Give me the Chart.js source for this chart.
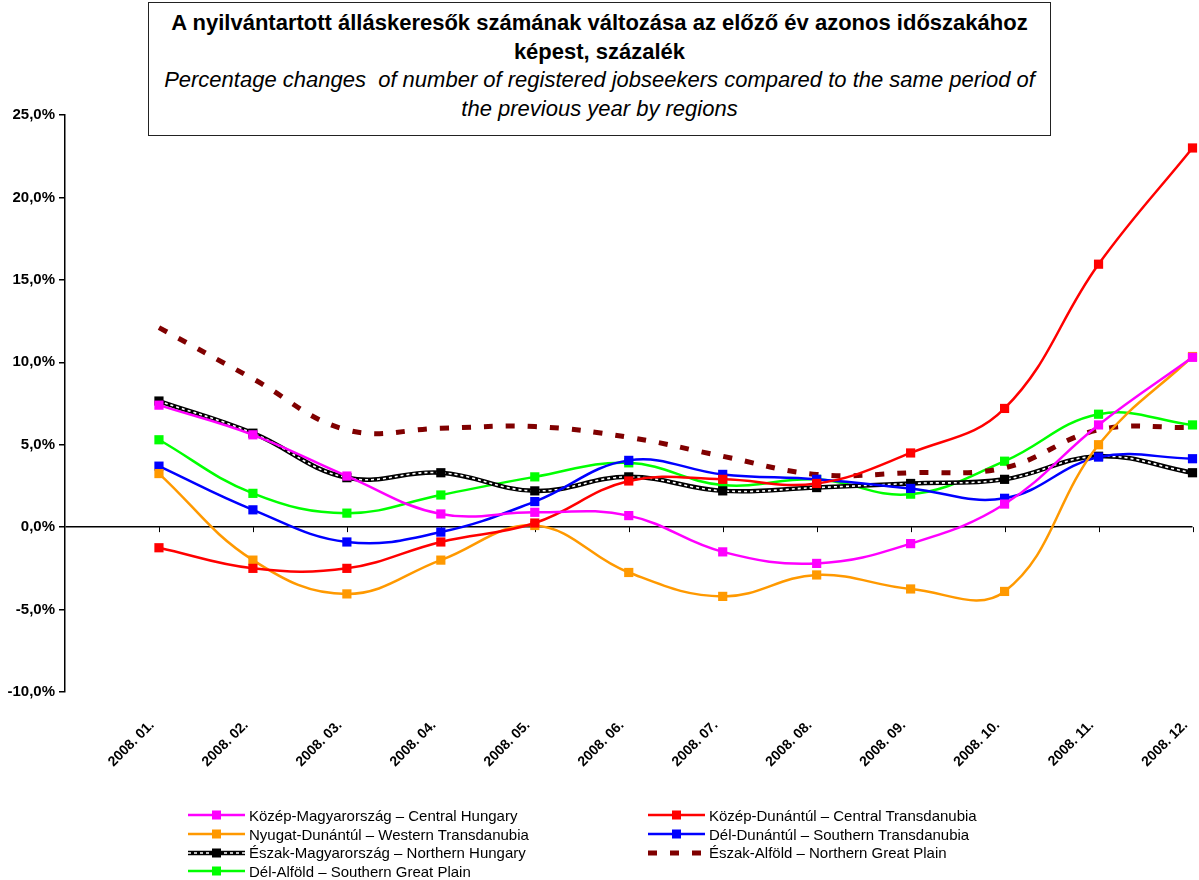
<!DOCTYPE html>
<html>
<head>
<meta charset="utf-8">
<script src="https://cdn.jsdelivr.net/npm/chart.js@4/dist/chart.umd.min.js"></script>
<style>
  body { margin: 0; background: #fff; font-family: "Liberation Sans", Arial, sans-serif; }
  #wrap { position: relative; width: 1199px; height: 880px; }
  #chart { position: absolute; left: 0; top: 0; }
  #title { position: absolute; left: 148px; top: 2px; width: 901px; height: 126px; border: 1.5px solid #222;
           text-align: center; font-size: 22px; line-height: 28.5px; padding-top: 6px; box-sizing: content-box; color: #000; background: #fff; }
  #title b { font-weight: bold; }
  #title i { font-style: italic; white-space: pre; }
  #legend { position: absolute; top: 806px; left: 188px; display: grid; grid-template-columns: 460px 400px;
            font-size: 15px; color: #000; }
  .item { display: flex; align-items: center; height: 18.7px; }
  .item svg { margin-right: 4px; }
</style>
</head>
<body>
<div id="wrap">
  <canvas id="chart" width="1199" height="880"></canvas>
  <div id="title">
    <b>A nyilvántartott álláskeresők számának változása az előző év azonos időszakához<br>képest, százalék</b><br>
    <i>Percentage changes  of number of registered jobseekers compared to the same period of</i><br>
    <i>the previous year by regions</i>
  </div>
  <div id="legend"></div>
</div>
<script>
// Reference chart: registered jobseekers, % change vs same period of previous year, by region

const months = ['2008. 01.', '2008. 02.', '2008. 03.', '2008. 04.', '2008. 05.', '2008. 06.',
                '2008. 07.', '2008. 08.', '2008. 09.', '2008. 10.', '2008. 11.', '2008. 12.'];

const centralHungary       = [7.4, 5.6, 3.1, 0.8, 0.9, 0.7, -1.5, -2.2, -1.0, 1.4, 6.2, 10.3];
const centralTransdanubia  = [-1.25, -2.5, -2.5, -0.9, 0.25, 2.8, 2.9, 2.65, 4.5, 7.2, 15.95, 23.0];
const westernTransdanubia  = [3.25, -2.0, -4.05, -2.0, 0.1, -2.75, -4.2, -2.9, -3.75, -3.9, 5.0, 10.35];
const southernTransdanubia = [3.7, 1.05, -0.9, -0.3, 1.55, 4.05, 3.2, 2.9, 2.35, 1.75, 4.25, 4.15];
const northernHungary      = [7.65, 5.7, 3.0, 3.3, 2.2, 3.05, 2.2, 2.4, 2.65, 2.9, 4.3, 3.3];
const northernGreatPlain   = [12.1, 9.0, 5.9, 6.0, 6.1, 5.45, 4.3, 3.2, 3.3, 3.6, 5.9, 6.05];
const southernGreatPlain   = [5.3, 2.05, 0.85, 1.95, 3.05, 3.9, 2.55, 2.9, 2.0, 4.0, 6.85, 6.2];

const yTicks = [-10, -5, 0, 5, 10, 15, 20, 25];

const series = [
    { label: 'Közép-Magyarország – Central Hungary', data: centralHungary, color: '#ff00ff' },
    { label: 'Közép-Dunántúl – Central Transdanubia', data: centralTransdanubia, color: '#ff0000' },
    { label: 'Nyugat-Dunántúl – Western Transdanubia', data: westernTransdanubia, color: '#ff9900' },
    { label: 'Dél-Dunántúl – Southern Transdanubia', data: southernTransdanubia, color: '#0000ff' },
    { label: 'Észak-Magyarország – Northern Hungary', data: northernHungary, color: '#000000', striped: true },
    { label: 'Észak-Alföld – Northern Great Plain', data: northernGreatPlain, color: '#800000', dashed: true },
    { label: 'Dél-Alföld – Southern Great Plain', data: southernGreatPlain, color: '#00ff00' }
];

function toPoints(arr) {
    return arr.map((v, i) => ({ x: i + 1, y: v }));
}

const datasets = [];
series.forEach((s) => {
    if (s.striped) {
        // white dashes over a thick black line, markers drawn by the overlay
        datasets.push({ label: s.label + ' overlay', data: toPoints(s.data), borderColor: '#ffffff', borderWidth: 1.6,
            borderDash: [3, 3], pointStyle: 'rect', pointRadius: 6.5, pointBackgroundColor: '#000', pointBorderColor: '#000',
            pointBorderWidth: 0, tension: 0.4, clip: false });
        datasets.push({ label: s.label, data: toPoints(s.data), borderColor: '#000', borderWidth: 4.5,
            pointRadius: 0, tension: 0.4, clip: false });
    } else if (s.dashed) {
        datasets.push({ label: s.label, data: toPoints(s.data), borderColor: s.color, borderWidth: 5,
            borderDash: [9, 13], borderCapStyle: 'butt', pointRadius: 0, tension: 0.4, clip: false });
    } else {
        datasets.push({ label: s.label, data: toPoints(s.data), borderColor: s.color, borderWidth: 2.5,
            pointStyle: 'rect', pointRadius: 6.5, pointBackgroundColor: s.color, pointBorderColor: s.color,
            pointBorderWidth: 0, tension: 0.4, clip: false });
    }
});

// small category ticks hanging off the zero line
const zeroTicks = {
    id: 'zeroTicks',
    beforeDatasetsDraw(chart) {
        const x = chart.scales.x, y = chart.scales.y;
        const y0 = y.getPixelForValue(0);
        const ctx = chart.ctx;
        ctx.save();
        ctx.strokeStyle = '#000';
        ctx.lineWidth = 1;
        for (let i = 1; i <= months.length; i++) {
            const px = Math.round(x.getPixelForValue(i)) + 0.5;
            ctx.beginPath();
            ctx.moveTo(px, y0);
            ctx.lineTo(px, y0 + 5);
            ctx.stroke();
        }
        ctx.restore();
    }
};

const ctx = document.getElementById('chart').getContext('2d');
new Chart(ctx, {
    type: 'line',
    data: { datasets: datasets },
    options: {
        responsive: false,
        animation: false,
        devicePixelRatio: 1,
        layout: { padding: { top: 115, right: 3, left: 0, bottom: 0 } },
        plugins: { legend: { display: false }, tooltip: { enabled: false } },
        scales: {
            x: {
                type: 'linear', min: 0, max: 12,
                afterFit(scale) { scale.height = 188; scale.paddingLeft = 0; scale.paddingRight = 0; },
                afterBuildTicks(scale) { scale.ticks = months.map((m, i) => ({ value: i + 1 })); },
                grid: { display: false },
                border: { display: false },
                ticks: {
                    autoSkip: false, minRotation: 45, maxRotation: 45, padding: 17, labelOffset: -7,
                    color: '#000', font: { family: '"Liberation Sans", Arial', size: 14, weight: 'bold' },
                    callback: (v) => months[v - 1] || ''
                }
            },
            y: {
                min: -10, max: 25,
                afterFit(scale) { scale.width = 65; },
                afterBuildTicks(scale) { scale.ticks = yTicks.map((v) => ({ value: v })); },
                border: { display: true, color: '#000', width: 1.5 },
                grid: {
                    drawTicks: true, tickLength: 6, tickColor: '#000', tickWidth: 1.5,
                    color: (c) => (c.tick && c.tick.value === 0 ? '#000' : 'rgba(0,0,0,0)'),
                    lineWidth: 1.5
                },
                ticks: {
                    padding: 4, color: '#000',
                    font: { family: '"Liberation Sans", Arial', size: 15, weight: 'bold' },
                    callback: (v) => v.toFixed(1).replace('.', ',') + '%'
                }
            }
        }
    },
    plugins: [zeroTicks]
});

// legend, two columns
const legend = document.getElementById('legend');
series.forEach((s) => {
    const item = document.createElement('div');
    item.className = 'item';
    let svg = '<svg width="57" height="12">';
    if (s.dashed) {
        svg += `<line x1="0" y1="6" x2="57" y2="6" stroke="${s.color}" stroke-width="5" stroke-dasharray="9 13"/>`;
    } else if (s.striped) {
        svg += '<line x1="0" y1="6" x2="57" y2="6" stroke="#000" stroke-width="4.5"/>';
        svg += '<line x1="0" y1="6" x2="57" y2="6" stroke="#fff" stroke-width="1.6" stroke-dasharray="3 3"/>';
        svg += '<rect x="24" y="1.5" width="9" height="9" fill="#000"/>';
    } else {
        svg += `<line x1="0" y1="6" x2="57" y2="6" stroke="${s.color}" stroke-width="2.5"/>`;
        svg += `<rect x="24" y="1.5" width="9" height="9" fill="${s.color}"/>`;
    }
    svg += '</svg>';
    item.innerHTML = svg + '<span>' + s.label + '</span>';
    legend.appendChild(item);
});
</script>
</body>
</html>
